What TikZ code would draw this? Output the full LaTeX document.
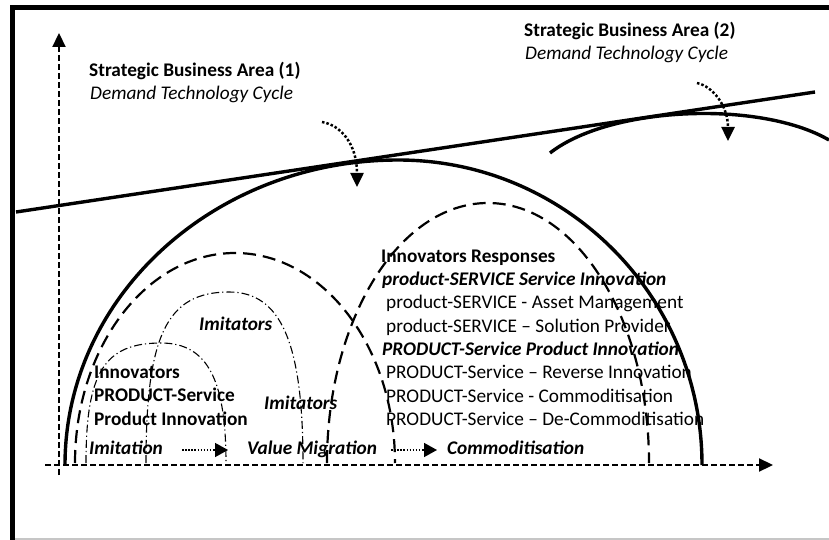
\documentclass[tikz,border=0pt]{standalone}
\usepackage{fontspec}
\setmainfont{Carlito}
\usetikzlibrary{arrows.meta}
\begin{document}
\begin{tikzpicture}[x=1pt,y=-1pt,
  txt/.style={anchor=base west, inner sep=0pt, font=\fontsize{19.3pt}{23pt}\selectfont},
  bt/.style={txt, font=\fontsize{19.3pt}{23pt}\selectfont\bfseries},
  it/.style={txt, font=\fontsize{19.3pt}{23pt}\selectfont\itshape},
  bit/.style={txt, font=\fontsize{19.3pt}{23pt}\selectfont\bfseries\itshape},
  axisline/.style={line width=2.2pt, dash pattern=on 6pt off 3pt, -{Triangle[length=14pt,width=13pt]}},
  solidarc/.style={line width=3.4pt},
  bigdash/.style={line width=2.2pt, dash pattern=on 13pt off 7pt},
  dashdotarc/.style={line width=1.1pt, dash pattern=on 8pt off 3pt on 1.2pt off 3pt},
  sbaarrow/.style={line width=2.5pt, dash pattern=on 2.5pt off 2pt, -{Triangle[length=14pt,width=13pt]}},
  flowarrow/.style={line width=1.5pt, dash pattern=on 1.5pt off 1.6pt, -{Triangle[length=13pt,width=14pt]}}
]
\useasboundingbox (0,0) rectangle (829,540);
% frame
\draw[line width=5pt] (12.5,540) -- (12.5,7.5) -- (829,7.5);
\draw[gray!45, line width=1.5pt] (15,539) -- (829,539);

% axes
\coordinate (ybot) at (59,475);
\coordinate (ytop) at (59,33);
\coordinate (xleft) at (45,465);
\coordinate (xright) at (773,465);
\draw[axisline] (ybot) -- (ytop);
\draw[axisline] (xleft) -- (xright);

% tangent line
\coordinate (tl) at (16,212);
\coordinate (tr) at (815,92);
\draw[line width=3.4pt] (tl) -- (tr);

% SBA1 big solid arc
\draw[solidarc] (65,465) arc[start angle=180,end angle=270,x radius=333,y radius=305]
                         arc[start angle=270,end angle=360,x radius=304,y radius=305];
% SBA2 arc
\draw[solidarc] (550,153) .. controls (610,106) and (760,100) .. (829,140);

% big dashed arcs
\draw[bigdash] (75,463) arc[start angle=180,end angle=360,x radius=160,y radius=210];
\draw[bigdash] (327,463) arc[start angle=180,end angle=360,x radius=161,y radius=260];

% dash-dot arcs
\draw[dashdotarc] (86,463) .. controls (86,373) and (104,343) .. (161,343)
                           .. controls (207,343) and (226,379) .. (226,463);
\draw[dashdotarc] (146,463) .. controls (146,335) and (167,292) .. (229,292)
                            .. controls (281,292) and (303,343) .. (303,463);

% SBA dotted arrows
\coordinate (s1a) at (322,122);
\coordinate (s1b) at (357,187);
\draw[sbaarrow] (s1a) .. controls (340,125) and (357,143) .. (s1b);
\coordinate (s2a) at (697,83);
\coordinate (s2b) at (728,141);
\draw[sbaarrow] (s2a) .. controls (712,86) and (728,105) .. (s2b);

% texts
\node[bt] (sba1) at (89,77) {Strategic Business Area (1)};
\node[it] (dtc1) at (90,100) {Demand Technology Cycle};
\node[bt] (sba2) at (524,37) {Strategic Business Area (2)};
\node[it] (dtc2) at (525,60) {Demand Technology Cycle};

\node[bt]  (r1) at (381,262)   {Innovators Responses};
\node[bit] (r2) at (382,285.3) {product-SERVICE Service Innovation};
\node[txt] (r3) at (386,308.6) {product-SERVICE - Asset Management};
\node[txt] (r4) at (386,332)   {product-SERVICE – Solution Provider};
\node[bit] (r5) at (382,355.3) {PRODUCT-Service Product Innovation};
\node[txt] (r6) at (386,378.6) {PRODUCT-Service – Reverse Innovation};
\node[txt] (r7) at (386,402)   {PRODUCT-Service - Commoditisation};
\node[txt] (r8) at (386,425.3) {PRODUCT-Service – De-Commoditisation};

\node[bt] (l1) at (94,378) {Innovators};
\node[bt] (l2) at (94,401) {PRODUCT-Service};
\node[bt] (l3) at (94,425) {Product Innovation};

\node[bit] (i1) at (199,330) {Imitators};
\node[bit] (i2) at (264,409) {Imitators};

\node[bit] (b1) at (89,454)  {Imitation};
\node[bit] (b2) at (247,454) {Value Migration};
\node[bit] (b3) at (447,454) {Commoditisation};

\coordinate (f1a) at (182,450);
\coordinate (f1b) at (228,450);
\coordinate (f2a) at (391,450);
\coordinate (f2b) at (437,450);
\draw[flowarrow] (f1a) -- (f1b);
\draw[flowarrow] (f2a) -- (f2b);
\end{tikzpicture}
\end{document}
